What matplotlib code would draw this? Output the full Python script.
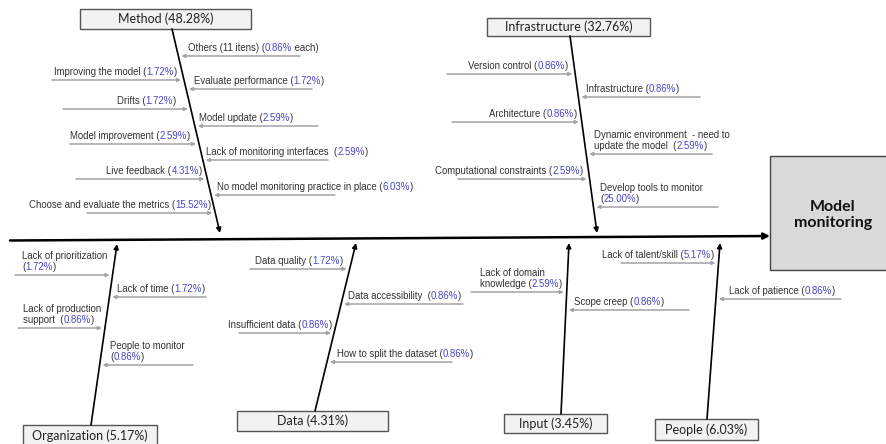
import matplotlib
matplotlib.use("Agg")
import matplotlib.pyplot as plt
from matplotlib.patches import Rectangle

# ---- data -------------------------------------------------------------
categories = ["Method", "Infrastructure", "Organization", "Data", "Input", "People"]
category_pct = [48.28, 32.76, 5.17, 4.31, 3.45, 6.03]
effect = "Model\nmonitoring"

# cause labels ({} marks where the percentage goes) and their percentages
method_causes = ["Others (11 itens) ({} each)", "Improving the model ({})",
                 "Evaluate performance ({})", "Drifts ({})", "Model update ({})",
                 "Model improvement ({})", "Lack of monitoring interfaces  ({})",
                 "Live feedback ({})", "No model monitoring practice in place ({})",
                 "Choose and evaluate the metrics ({})"]
method_pct = [0.86, 1.72, 1.72, 1.72, 2.59, 2.59, 2.59, 4.31, 6.03, 15.52]

infra_causes = ["Version control ({})", "Infrastructure ({})", "Architecture ({})",
                "Dynamic environment  - need to\nupdate the model  ({})",
                "Computational constraints ({})", "Develop tools to monitor\n({})"]
infra_pct = [0.86, 0.86, 0.86, 2.59, 2.59, 25.00]

org_causes = ["Lack of prioritization\n({})", "Lack of time ({})",
              "Lack of production\nsupport  ({})", "People to monitor\n({})"]
org_pct = [1.72, 1.72, 0.86, 0.86]

data_causes = ["Data quality ({})", "Data accessibility  ({})",
               "Insufficient data ({})", "How to split the dataset ({})"]
data_pct = [1.72, 0.86, 0.86, 0.86]

input_causes = ["Lack of domain\nknowledge ({})", "Scope creep ({})"]
input_pct = [2.59, 0.86]

people_causes = ["Lack of talent/skill ({})", "Lack of patience ({})"]
people_pct = [5.17, 0.86]

causes = [method_causes, infra_causes, org_causes, data_causes, input_causes, people_causes]
cause_pct = [method_pct, infra_pct, org_pct, data_pct, input_pct, people_pct]

# ---- layout (pixel coordinates, y downwards) ---------------------------
boxes = [(80, 9, 171, 20), (487, 18, 163, 18), (23, 425, 134, 30),
         (237, 411, 151, 20), (504, 414, 103, 19), (655, 419, 103, 21)]
label_y = [19, 27, 436, 421, 424, 430]
bones = [((172, 29), (220, 233)), ((570, 36), (597, 233)), ((91, 425), (117, 244)),
         ((315, 411), (356, 243)), ((561, 414), (569, 243)), ((707, 419), (720, 243))]
# per cause: arrow y, arrow tail x, text x, text alignment
cause_layout = [
    [(56, 300, 188, "left"), (80, 52, 177, "right"), (89, 312, 194, "left"),
     (109, 63, 176, "right"), (126, 318, 199, "left"), (144, 70, 190, "right"),
     (160, 328, 206, "left"), (179, 76, 202, "right"), (195, 335, 217, "left"),
     (213, 87, 211, "right")],
    [(74, 447, 568, "right"), (97, 700, 586, "left"), (122, 452, 577, "right"),
     (154, 712, 594, "left"), (179, 458, 583, "right"), (207, 718, 600, "left")],
    [(275, 15, 22, "left"), (297, 206, 117, "left"), (328, 18, 23, "left"),
     (365, 193, 110, "left")],
    [(269, 250, 343, "right"), (304, 463, 348, "left"), (333, 239, 332, "right"),
     (362, 452, 337, "left")],
    [(292, 471, 480, "left"), (310, 689, 574, "left")],
    [(263, 621, 714, "right"), (299, 841, 729, "left")],
]

TXT = "#333333"
BLUE = "#4646c8"
GRAY = "#a3a3a3"
small = dict(family=["Liberation Sans", "DejaVu Sans"], fontsize=6.9)

fig = plt.figure(figsize=(8.86, 4.44), dpi=100)
ax = fig.add_axes([0, 0, 1, 1])
ax.set_xlim(0, 886)
ax.set_ylim(444, 0)
ax.axis("off")
renderer = fig.canvas.get_renderer()


def width(s):
    t = ax.text(0, 0, s, **small)
    w = t.get_window_extent(renderer).width
    t.remove()
    return w


def advance(s):
    # pen advance of s, free of side bearings
    return width("|" + s + "|") - width("||")


def draw_line(x, y, line, pct, ha):
    if "{}" not in line:
        ax.text(x, y, line, color=TXT, ha=ha, va="baseline", **small)
        return
    pre, post = line.split("{}")
    p = f"{pct:.2f}%"
    full = pre + p + post
    x0 = x - advance(full) if ha == "right" else x
    ax.text(x0, y, pre, color=TXT, ha="left", va="baseline", **small)
    ax.text(x0 + advance(pre), y, p, color=BLUE, ha="left", va="baseline", **small)
    if post:
        ax.text(x0 + advance(pre + p), y, post, color=TXT, ha="left", va="baseline", **small)


def bone_x(bone, y):
    (x1, y1), (x2, y2) = bone
    return x1 + (x2 - x1) * (y - y1) / (y2 - y1)


# main spine and effect box
ax.annotate("", xy=(770, 236), xytext=(10, 240.5),
            arrowprops=dict(arrowstyle="-|>", color="black", lw=1.8, mutation_scale=9,
                            shrinkA=0, shrinkB=0))
ax.add_patch(Rectangle((770, 156), 130, 114, facecolor="#d9d9d9", edgecolor="#444444", lw=1))
ax.text(833, 215, effect, ha="center", va="center", fontsize=11.5, fontweight="bold",
        family=["Lato", "DejaVu Sans"], color="#111111", linespacing=1.15)

for i, cat in enumerate(categories):
    bx, by, bw, bh = boxes[i]
    ax.add_patch(Rectangle((bx, by), bw, bh, facecolor="#f2f2f2", edgecolor="#555555", lw=1))
    ax.text(bx + bw / 2, label_y[i], f"{cat} ({category_pct[i]:.2f}%)", ha="center",
            va="center", fontsize=9, family=["Lato", "DejaVu Sans"], color="#222222")
    start, tip = bones[i]
    ax.annotate("", xy=tip, xytext=start,
                arrowprops=dict(arrowstyle="-|>", color="black", lw=1.2, mutation_scale=7,
                                shrinkA=0, shrinkB=0))
    for j, lab in enumerate(causes[i]):
        ya, tail, tx, ha = cause_layout[i][j]
        bxp = bone_x(bones[i], ya)
        head = bxp - 3 if tail < bxp else bxp + 3
        ax.annotate("", xy=(head, ya), xytext=(tail, ya),
                    arrowprops=dict(arrowstyle="-|>", color=GRAY, lw=1.1, mutation_scale=5,
                                    shrinkA=0, shrinkB=0))
        lines = lab.split("\n")
        n = len(lines)
        for k, line in enumerate(lines):
            yy = ya - 5 - (n - 1 - k) * 11
            draw_line(tx, yy, line, cause_pct[i][j], ha)

fig.savefig("out.png", dpi=100)
